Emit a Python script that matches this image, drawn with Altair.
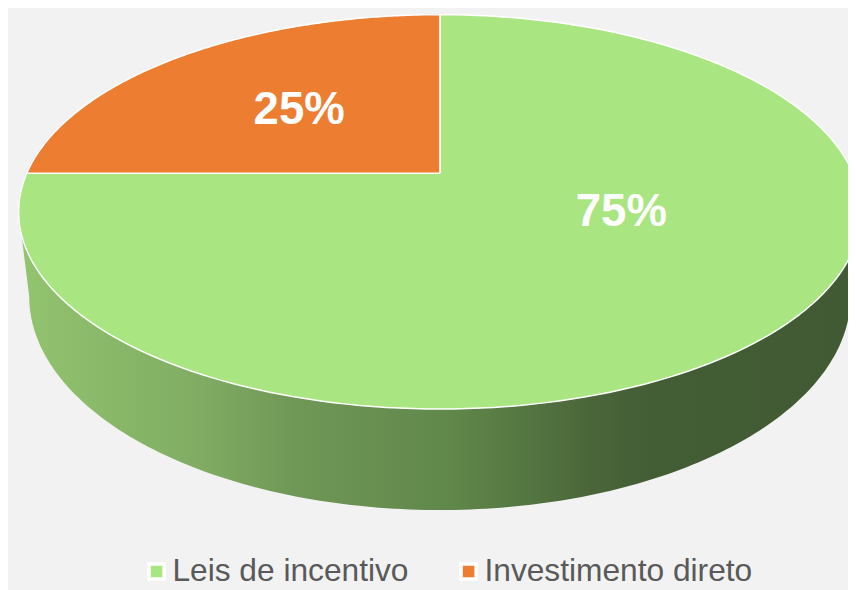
import altair as alt
import pandas as pd

# ---- data ----
categories = ["Leis de incentivo", "Investimento direto"]
values = [75, 25]
colors = ["#a9e580", "#ed7d31"]
order = [0, 1]

df = pd.DataFrame({"cat": categories, "value": values, "order": order})

# ---- geometry (layout) ----
X0, Y0 = 444, 172      # projected pie centre (page px)
S = 417                # horizontal radius
P = 0.196              # perspective factor
T = 191.4              # vertical radius factor
D = 82                 # depth of the side
SB = 0.975             # bottom edge narrowing
RLX, RLY = 0.55, 0.38  # label radius (horizontal / depth)
N = 180

base = (
    alt.Chart(df)
    .transform_joinaggregate(total="sum(value)")
    .transform_window(cum="sum(value)", sort=[alt.SortField("order")], frame=[None, 0])
    .transform_calculate(
        a1="2*PI*datum.cum/datum.total",
        a0="2*PI*(datum.cum-datum.value)/datum.total",
    )
)

xs = alt.Scale(domain=[8, 856], nice=False, zero=False)
ys = alt.Scale(domain=[8, 590], nice=False, zero=False, reverse=True)

# side wall (front, visible part)
aL = f"atan2(sqrt(1-{P}*{P}), -{P})"
side = (
    base.transform_calculate(
        lo=f"max(datum.a0, {aL})",
        hi=f"min(datum.a1, 2*PI-{aL})",
    )
    .transform_filter("datum.hi > datum.lo")
    .transform_calculate(k=f"sequence(0,{2*N+2})")
    .transform_flatten(["k"])
    .transform_calculate(
        b=f"datum.k > {N} ? 1 : 0",
        a=f"datum.k <= {N} ? datum.lo + (datum.hi-datum.lo)*datum.k/{N} : datum.hi - (datum.hi-datum.lo)*(datum.k-{N}-1)/{N}",
    )
    .transform_calculate(u="sin(datum.a)", v="cos(datum.a)")
    .transform_calculate(w=f"1+{P}*datum.v")
    .transform_calculate(
        px=f"{X0}+{S}*(datum.b==1 ? {SB} : 1)*datum.u/datum.w",
        py=f"{Y0}-{T}*datum.v/datum.w + (datum.b==1 ? {D}/datum.w : 0)",
    )
    .mark_line(
        filled=True,
        clip=True,
        strokeOpacity=0,
        fill=alt.Gradient(
            gradient="linear",
            x1=0, x2=1, y1=0, y2=0,
            stops=[
                alt.GradientStop(color="#93c46f", offset=0.0),
                alt.GradientStop(color="#80ad63", offset=0.21),
                alt.GradientStop(color="#6f9756", offset=0.33),
                alt.GradientStop(color="#61884b", offset=0.51),
                alt.GradientStop(color="#4a6639", offset=0.68),
                alt.GradientStop(color="#435d35", offset=0.75),
                alt.GradientStop(color="#415a33", offset=1.0),
            ],
        ),
    )
    .encode(
        x=alt.X("px:Q", scale=xs, axis=None),
        y=alt.Y("py:Q", scale=ys, axis=None),
        detail="cat:N",
        order="k:Q",
    )
)

# top face wedges
top = (
    base.transform_calculate(k=f"sequence(0,{N+3})")
    .transform_flatten(["k"])
    .transform_calculate(
        t=f"clamp((datum.k-1)/{N},0,1)",
        r=f"(datum.k==0 || datum.k=={N+2}) ? 0 : 1",
    )
    .transform_calculate(a="datum.a0 + (datum.a1-datum.a0)*datum.t")
    .transform_calculate(u="datum.r*sin(datum.a)", v="datum.r*cos(datum.a)")
    .transform_calculate(w=f"1+{P}*datum.v")
    .transform_calculate(
        px=f"{X0}+{S}*datum.u/datum.w",
        py=f"{Y0}-{T}*datum.v/datum.w",
    )
    .mark_line(filled=True, clip=True, stroke="white", strokeWidth=1.5, strokeJoin="round")
    .encode(
        x=alt.X("px:Q", scale=xs, axis=None),
        y=alt.Y("py:Q", scale=ys, axis=None),
        color=alt.Color(
            "cat:N",
            scale=alt.Scale(domain=categories, range=colors),
            sort=categories,
            legend=alt.Legend(
                title=None,
                orient="none",
                direction="horizontal",
                legendX=134,
                legendY=550,
                symbolType="square",
                symbolSize=230,
                symbolStrokeColor="white",
                symbolStrokeWidth=3.5,
                labelFont="Liberation Sans",
                labelFontSize=32,
                labelColor="#595959",
                labelLimit=0,
                labelOffset=0,
                columnPadding=44,
                padding=0,
            ),
        ),
        order="k:Q",
    )
)

labels = (
    base.transform_calculate(m="(datum.a0+datum.a1)/2")
    .transform_calculate(u=f"{RLX}*sin(datum.m)", v=f"{RLY}*cos(datum.m)")
    .transform_calculate(w=f"1+{P}*datum.v")
    .transform_calculate(
        px=f"{X0}+{S}*datum.u/datum.w",
        py=f"{Y0}-{T}*datum.v/datum.w",
        lab="round(100*datum.value/datum.total) + '%'",
    )
    .mark_text(font="Liberation Sans", fontSize=46, fontWeight="bold", color="white", dx=12, dy=-15)
    .encode(
        x=alt.X("px:Q", scale=xs, axis=None),
        y=alt.Y("py:Q", scale=ys, axis=None),
        text="lab:N",
    )
)

chart = (
    alt.layer(side, top, labels)
    .properties(width=848, height=582, autosize=alt.AutoSizeParams(type="none"), padding=0)
    .configure(background="#f2f2f2")
    .configure_view(stroke=None)
)

chart.save("out.html", embed_options={"renderer": "svg", "actions": False})
